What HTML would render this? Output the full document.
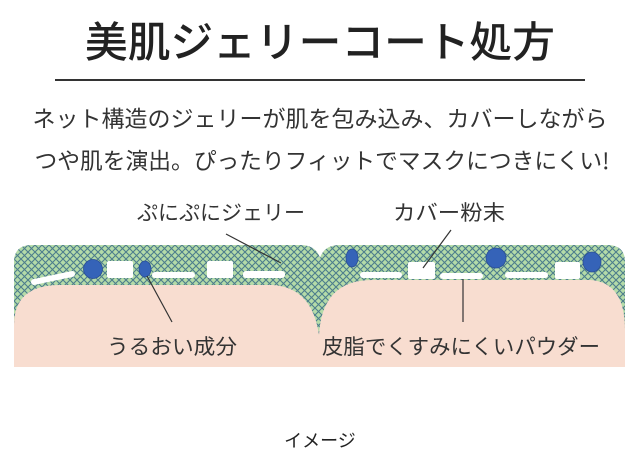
<!DOCTYPE html>
<html><head><meta charset="utf-8"><style>
body{margin:0;background:#fff;width:640px;height:471px;overflow:hidden;font-family:"Liberation Sans","Noto Sans CJK JP",sans-serif;color:#333}
</style></head><body>
<svg width="640" height="471" xmlns="http://www.w3.org/2000/svg" style="position:absolute;left:0;top:0">
<defs>
<pattern id="h" width="7" height="7" patternUnits="userSpaceOnUse">
<rect width="7" height="7" fill="#b4dba8"/>
<path d="M0,0 L7,7 M7,0 L0,7" stroke="#4d7d8c" stroke-width="1.1"/>
</pattern>
</defs>
<text x="320" y="57" text-anchor="middle" font-size="42" font-family="Noto Sans CJK JP, sans-serif" fill="#222" font-weight="500" textLength="470" lengthAdjust="spacingAndGlyphs">美肌ジェリーコート処方</text>
<line x1="55" y1="80" x2="585" y2="80" stroke="#333" stroke-width="2"/>
<text x="320" y="127" text-anchor="middle" font-size="22.5" font-family="Noto Sans CJK JP, sans-serif" fill="#333" textLength="575" lengthAdjust="spacingAndGlyphs">ネット構造のジェリーが肌を包み込み、カバーしながら</text>
<text x="322" y="169" text-anchor="middle" font-size="22.5" font-family="Noto Sans CJK JP, sans-serif" fill="#333" textLength="575" lengthAdjust="spacingAndGlyphs">つや肌を演出。ぴったりフィットでマスクにつきにくい!</text>
<path d="M14,367 L14,262 Q14,245 32,245 L300,245 Q316,245 320,258 Q324,245 340,245 L607,245 Q625,245 625,262 L625,367 Z" fill="url(#h)"/>
<path d="M14,367 L14,325 Q14,285 60,285 L272,285 Q312,287 319,335 Q322,280 372,280 L590,280 Q625,282 625,330 L625,367 Z" fill="#f8ddd0"/>
<g fill="#fff">
<line x1="34" y1="282" x2="72" y2="274" stroke="#fff" stroke-width="6" stroke-linecap="round"/>
<rect x="107" y="261" width="26" height="17" rx="2"/>
<rect x="152" y="272" width="43" height="6" rx="3"/>
<rect x="207" y="261" width="26" height="17" rx="2"/>
<rect x="243" y="271" width="42" height="7" rx="3"/>
<rect x="360" y="272" width="42" height="6" rx="3"/>
<rect x="408" y="262" width="27" height="17" rx="2"/>
<rect x="440" y="273" width="43" height="6" rx="3"/>
<rect x="505" y="272" width="43" height="6" rx="3"/>
<rect x="555" y="262" width="25" height="17" rx="2"/>
</g>
<g fill="#3563b8" stroke="#2a4f95" stroke-width="0.8">
<circle cx="93" cy="269" r="9.5"/>
<ellipse cx="145" cy="269" rx="6" ry="8"/>
<ellipse cx="352" cy="258" rx="6" ry="9"/>
<circle cx="496" cy="258" r="10"/>
<ellipse cx="592" cy="262" rx="9" ry="10"/>
</g>
<g stroke="#333" stroke-width="1.2">
<line x1="226" y1="234" x2="281" y2="263"/>
<line x1="147" y1="276" x2="172" y2="322"/>
<line x1="423" y1="268" x2="451" y2="230"/>
<line x1="463" y1="279" x2="463" y2="322"/>
</g>
<g font-size="21" font-family="Noto Sans CJK JP, sans-serif" fill="#333">
<text x="137" y="220" textLength="168" lengthAdjust="spacingAndGlyphs">ぷにぷにジェリー</text>
<text x="393" y="220" textLength="112" lengthAdjust="spacingAndGlyphs">カバー粉末</text>
<text x="107" y="354" textLength="130" lengthAdjust="spacingAndGlyphs">うるおい成分</text>
<text x="322" y="354" textLength="278" lengthAdjust="spacingAndGlyphs">皮脂でくすみにくいパウダー</text>
<text x="320" y="447" text-anchor="middle" font-size="18" fill="#222">イメージ</text>
</g>
</svg>
</body></html>
